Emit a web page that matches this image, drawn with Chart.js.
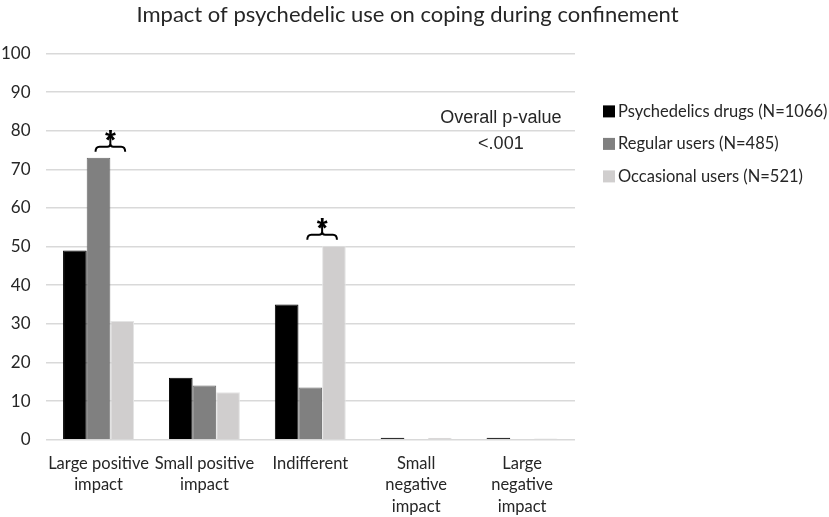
<!DOCTYPE html>
<html>
<head>
<meta charset="utf-8">
<script src="https://cdn.jsdelivr.net/npm/chart.js@4.4.1/dist/chart.umd.min.js"></script>
<style>
  html, body { margin: 0; background: #fff; }
  #wrap { width: 829px; height: 517px; }
</style>
</head>
<body>
<div id="wrap"><canvas id="chart"></canvas></div>
<script>
// categories on the x axis (multi-line labels as arrays)
const categories = [
  ["Large positive", "impact"],
  ["Small positive", "impact"],
  "Indifferent",
  ["Small", "negative", "impact"],
  ["Large", "negative", "impact"]
];

const seriesNames = ["Psychedelics drugs (N=1066)", "Regular users (N=485)", "Occasional users (N=521)"];
const seriesColors = ["#000000", "#808080", "#d0cece"];

// percentages
const psychedelics = [49, 16, 35, 0.5, 0.5];
const regularUsers = [73, 14, 13.5, 0, 0];
const occasionalUsers = [30.7, 12.3, 50.2, 0.5, 0.3];

const yMin = 0, yMax = 100, yStep = 10;

// categories with a significant difference between regular and occasional users
const starredCategories = [0, 2];
const pValueText = ["Overall p-value", "<.001"];

const textColor = "#262626";

// brackets + asterisks above the bars, and the overall p-value note
const annotations = {
  id: "annotations",
  afterDatasetsDraw(chart) {
    const ctx = chart.ctx;
    const reg = chart.getDatasetMeta(1);
    const occ = chart.getDatasetMeta(2);
    ctx.save();
    ctx.strokeStyle = "#000";
    ctx.fillStyle = "#000";
    ctx.lineWidth = 2;
    starredCategories.forEach(i => {
      const x1 = reg.data[i].x - 3;
      const x2 = occ.data[i].x + 3;
      const xm = (x1 + x2) / 2;
      const top = Math.min(reg.data[i].y, occ.data[i].y);
      const yb = top - 6, yh = top - 11, tip = top - 22;
      ctx.beginPath();
      ctx.moveTo(x1, yb);
      ctx.quadraticCurveTo(x1, yh, x1 + 4, yh);
      ctx.lineTo(xm - 3, yh);
      ctx.quadraticCurveTo(xm, yh, xm, yh - 3);
      ctx.lineTo(xm, tip);
      ctx.moveTo(x2, yb);
      ctx.quadraticCurveTo(x2, yh, x2 - 4, yh);
      ctx.lineTo(xm + 3, yh);
      ctx.quadraticCurveTo(xm, yh, xm, yh - 3);
      ctx.stroke();
      ctx.font = "bold 28px 'Liberation Sans'";
      ctx.textAlign = "center";
      ctx.textBaseline = "alphabetic";
      ctx.fillText("*", xm, tip + 13);
    });

    const xs = chart.scales.x, ys = chart.scales.y;
    ctx.fillStyle = textColor;
    ctx.font = "18px 'Liberation Sans'";
    ctx.textAlign = "center";
    ctx.textBaseline = "middle";
    ctx.fillText(pValueText[0], xs.getPixelForValue(3.8), ys.getPixelForValue(83.2));
    ctx.fillText(pValueText[1], xs.getPixelForValue(3.8), ys.getPixelForValue(76.5));
    ctx.restore();
  }
};

// legend drawn to the right of the plot from the datasets
const sideLegend = {
  id: "sideLegend",
  afterDraw(chart) {
    const ctx = chart.ctx;
    const area = chart.chartArea;
    const x = area.right + 28;
    let y = area.top + 58;
    ctx.save();
    ctx.font = "16.5px Lato";
    ctx.textBaseline = "middle";
    ctx.textAlign = "left";
    chart.data.datasets.forEach(ds => {
      ctx.fillStyle = ds.backgroundColor;
      ctx.fillRect(x, y - 6, 12, 12);
      ctx.fillStyle = textColor;
      ctx.fillText(ds.label, x + 15, y);
      y += 32.5;
    });
    ctx.restore();
  }
};

const ctx = document.getElementById("chart").getContext("2d");

new Chart(ctx, {
  type: "bar",
  data: {
    labels: categories,
    datasets: [
      { label: seriesNames[0], data: psychedelics, backgroundColor: seriesColors[0], borderColor: "#000000", borderWidth: 1 },
      { label: seriesNames[1], data: regularUsers, backgroundColor: seriesColors[1], borderColor: "#6a6a6a", borderWidth: 1 },
      { label: seriesNames[2], data: occasionalUsers, backgroundColor: seriesColors[2], borderColor: "#e4e4e4", borderWidth: 1 }
    ]
  },
  options: {
    responsive: true,
    maintainAspectRatio: false,
    animation: false,
    datasets: { bar: { categoryPercentage: 0.67, barPercentage: 1 } },
    layout: { padding: { left: -14, right: 0, top: 2, bottom: -5 } },
    plugins: {
      title: {
        display: true,
        text: "Impact of psychedelic use on coping during confinement",
        color: textColor,
        font: { family: "Lato", size: 22, weight: "normal" },
        padding: { top: 0, bottom: 25 }
      },
      legend: { display: false },
      tooltip: { enabled: false }
    },
    scales: {
      x: {
        grid: { display: false },
        border: { display: false },
        ticks: {
          color: textColor,
          font: { family: "Lato", size: 16.5, lineHeight: 1.3 },
          maxRotation: 0,
          autoSkip: false,
          padding: 5
        },
        afterFit(scale) { scale.paddingLeft = 0; scale.paddingRight = 0; }
      },
      y: {
        min: yMin,
        max: yMax,
        grid: { color: "#d9d9d9", lineWidth: 1.5, drawTicks: false },
        border: { display: false },
        ticks: {
          stepSize: yStep,
          color: textColor,
          font: { family: "Lato", size: 17 },
          padding: 15
        }
      },
      // empty right-hand axis that keeps room for the legend
      legendSpace: {
        position: "right",
        grid: { display: false, drawTicks: false },
        border: { display: false },
        ticks: { display: false },
        afterFit(scale) { scale.width = 254; }
      }
    }
  },
  plugins: [annotations, sideLegend]
});
</script>
</body>
</html>
